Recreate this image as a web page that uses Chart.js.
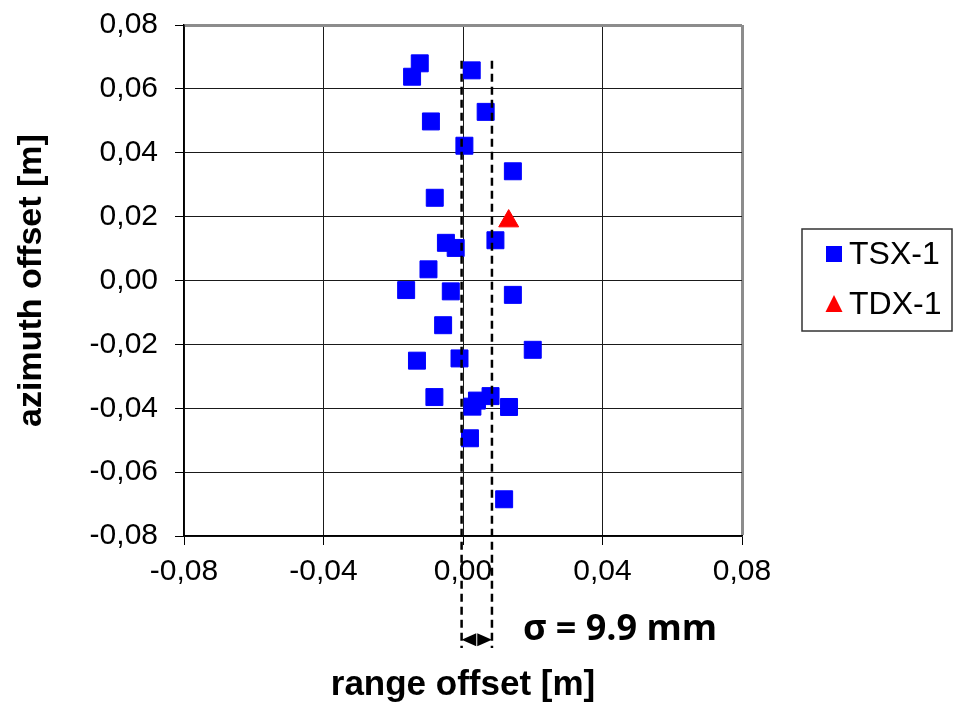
<!DOCTYPE html>
<html><head><meta charset="utf-8">
<script src="https://cdn.jsdelivr.net/npm/chart.js@4.4.0/dist/chart.umd.min.js"></script>
<style>html,body{margin:0;padding:0;background:#fff}#wrap{width:957px;height:704px}</style>
</head><body><div id="wrap"><canvas id="c" width="957" height="704"></canvas></div>
<script>
// ---- data ----
const seriesNames = ['TSX-1', 'TDX-1'];
const tsxRange = [-0.0124, -0.0146, 0.0025, 0.0065, -0.0092, 0.0004, 0.0143, -0.0081, -0.0049, -0.0021, 0.0093, -0.0099, -0.0163, -0.0035, 0.0143, -0.0057, 0.0200, -0.0132, -0.0010, -0.0082, 0.0079, 0.0040, 0.0027, 0.0132, 0.0020, 0.0118];
const tsxAzimuth = [0.0680, 0.0638, 0.0658, 0.0528, 0.0498, 0.0422, 0.0342, 0.0259, 0.0118, 0.0102, 0.0126, 0.0035, -0.0030, -0.0034, -0.0045, -0.0140, -0.0217, -0.0251, -0.0244, -0.0365, -0.0362, -0.0376, -0.0395, -0.0396, -0.0494, -0.0685];
const tdxRange = [0.0131];
const tdxAzimuth = [0.0186];
const xTickLabels = ['-0,08', '-0,04', '0,00', '0,04', '0,08'];
const yTickLabels = ['-0,08', '-0,06', '-0,04', '-0,02', '0,00', '0,02', '0,04', '0,06', '0,08'];
const sigmaBand = [-0.0004, 0.0083];
const sigmaLabel = 'σ = 9.9 mm';
const xTitle = 'range offset [m]';
const yTitle = 'azimuth offset [m]';

const toPts = (xs, ys) => xs.map((x, i) => ({x: x, y: ys[i]}));
const isEdge = v => Math.abs(v - 0.08) < 1e-9;

const annotate = {
  id: 'annotate',
  afterDraw(chart) {
    const ctx = chart.ctx, xs = chart.scales.x, ys = chart.scales.y;
    const xl = xs.getPixelForValue(sigmaBand[0]);
    const xr = xs.getPixelForValue(sigmaBand[1]);
    const yTop = ys.getPixelForValue(0.0688);
    const yBot = ys.getPixelForValue(-0.1151);
    const yArr = ys.getPixelForValue(-0.1125);
    ctx.save();
    ctx.strokeStyle = '#000';
    ctx.lineWidth = 2.5;
    ctx.setLineDash([8, 5]);
    [xl, xr].forEach(x => {
      ctx.beginPath(); ctx.moveTo(x, yTop); ctx.lineTo(x, yBot); ctx.stroke();
    });
    ctx.setLineDash([]);
    // double arrow
    const xm = (xl + xr) / 2;
    ctx.fillStyle = '#000';
    ctx.beginPath(); ctx.moveTo(xl, yArr); ctx.lineTo(xm - 0.5, yArr - 6.5); ctx.lineTo(xm - 0.5, yArr + 6.5); ctx.closePath(); ctx.fill();
    ctx.beginPath(); ctx.moveTo(xr, yArr); ctx.lineTo(xm + 0.5, yArr - 6.5); ctx.lineTo(xm + 0.5, yArr + 6.5); ctx.closePath(); ctx.fill();
    // sigma text
    ctx.font = 'bold 36px "Open Sans"';
    ctx.textAlign = 'left';
    ctx.textBaseline = 'alphabetic';
    ctx.fillText(sigmaLabel, xr + 31, yArr);
    // legend
    const lx = 802, ly = 229, lw = 150, lh = 102;
    ctx.strokeStyle = '#333';
    ctx.lineWidth = 1.5;
    ctx.strokeRect(lx, ly, lw, lh);
    ctx.font = '32px "Liberation Sans"';
    ctx.textBaseline = 'middle';
    const dsets = chart.data.datasets;
    const rows = [254, 304];
    dsets.forEach((d, i) => {
      const cy = rows[i];
      ctx.fillStyle = d.backgroundColor;
      if (d.pointStyle === 'rect') {
        ctx.fillRect(826, cy - 8, 16, 16);
      } else {
        ctx.beginPath(); ctx.moveTo(834, cy - 9); ctx.lineTo(842.5, cy + 8); ctx.lineTo(825.5, cy + 8); ctx.closePath(); ctx.fill();
      }
      ctx.fillStyle = '#000';
      ctx.fillText(d.label, 849, cy + 1);
    });
    ctx.restore();
  }
};

new Chart(document.getElementById('c'), {
  type: 'scatter',
  data: {
    datasets: [
      {label: seriesNames[0], data: toPts(tsxRange, tsxAzimuth), pointStyle: 'rect', backgroundColor: '#0000ff', borderColor: '#0000ff', borderWidth: 1, pointRadius: 12, pointHoverRadius: 12},
      {label: seriesNames[1], data: toPts(tdxRange, tdxAzimuth), pointStyle: 'triangle', backgroundColor: '#ff0000', borderColor: '#ff0000', borderWidth: 1, pointRadius: 11.5, pointHoverRadius: 11.5}
    ]
  },
  options: {
    responsive: false,
    animation: false,
    layout: {padding: {top: 25, right: 215, left: 0, bottom: 0}},
    plugins: {legend: {display: false}, tooltip: {enabled: false}},
    scales: {
      x: {
        type: 'linear', min: -0.08, max: 0.08,
        afterFit: s => { s.height = 168; s.paddingLeft = 0; s.paddingRight = 0; },
        ticks: {stepSize: 0.04, padding: 9, color: '#000', font: {family: 'Liberation Sans', size: 30},
          callback: (v, i) => xTickLabels[i]},
        grid: {color: c => isEdge(c.tick.value) ? '#8c8c8c' : '#1a1a1a', lineWidth: c => isEdge(c.tick.value) ? 3 : 1,
          tickLength: 9, tickColor: '#000', tickWidth: 1},
        border: {color: '#000', width: 1.5},
        title: {display: true, text: xTitle, color: '#000', font: {family: 'Liberation Sans', size: 35, weight: 'bold', lineHeight: 1}, padding: {top: 0, bottom: 1}}
      },
      y: {
        type: 'linear', min: -0.08, max: 0.08,
        afterFit: s => { s.width = 184; s.paddingTop = 0; s.paddingBottom = 0; },
        ticks: {stepSize: 0.02, padding: 17, color: '#000', font: {family: 'Liberation Sans', size: 30},
          callback: (v, i) => yTickLabels[i]},
        grid: {color: c => isEdge(c.tick.value) ? '#8c8c8c' : '#1a1a1a', lineWidth: c => isEdge(c.tick.value) ? 3 : 1,
          tickLength: 9, tickColor: '#000', tickWidth: 1},
        border: {color: '#000', width: 1.5},
        title: {display: true, text: yTitle, color: '#000', font: {family: 'Liberation Sans', size: 34, weight: 'bold', lineHeight: 1}, padding: {top: 15, bottom: 0}}
      }
    }
  },
  plugins: [annotate]
});
</script>
</body></html>
